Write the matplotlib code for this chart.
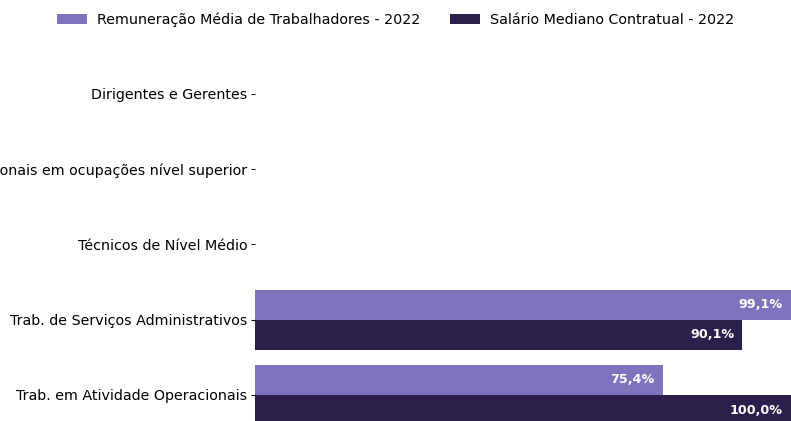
import numpy as np
import matplotlib.pyplot as plt

categorias = ["Dirigentes e Gerentes",
              "Profissionais em ocupações nível superior",
              "Técnicos de Nível Médio",
              "Trab. de Serviços Administrativos",
              "Trab. em Atividade Operacionais"]
remuneracao = [np.nan, np.nan, np.nan, 99.1, 75.4]
salario = [np.nan, np.nan, np.nan, 90.1, 100.0]
serie1 = "Remuneração Média de Trabalhadores - 2022"
serie2 = "Salário Mediano Contratual - 2022"

cor1 = "#8073bd"
cor2 = "#2d1f4b"

fig = plt.figure(figsize=(7.91, 4.21), dpi=100)
ax = fig.add_axes([255 / 791, 0, 536 / 791, 0.8877])

y = np.arange(len(categorias))
h = 0.4
b1 = ax.barh(y - h / 2, remuneracao, height=h, color=cor1, label=serie1)
b2 = ax.barh(y + h / 2, salario, height=h, color=cor2, label=serie2)

def rotulos(barras, valores):
    for bar, v in zip(barras, valores):
        if np.isnan(v):
            continue
        ax.text(min(v, 99.1) - 1.5, bar.get_y() + bar.get_height() / 2,
                f"{v:.1f}%".replace(".", ","), ha="right", va="center",
                color="white", fontsize=9.2, fontweight="bold")

rotulos(b1, remuneracao)
rotulos(b2, salario)

ax.set_yticks(y)
ax.set_yticklabels(categorias, fontsize=10.3)
ax.set_xlim(0, 99.1)
ax.set_ylim(4.3455, -0.62)
ax.xaxis.set_visible(False)
for s in ax.spines.values():
    s.set_visible(False)
ax.tick_params(axis="y", length=3, pad=2.5)

fig.legend(loc="upper center", bbox_to_anchor=(0.5, 1.0), ncol=2, frameon=False,
           fontsize=10.25, handlelength=2.1, handletextpad=0.7, columnspacing=2.1)

fig.savefig("out.png", dpi=100)
